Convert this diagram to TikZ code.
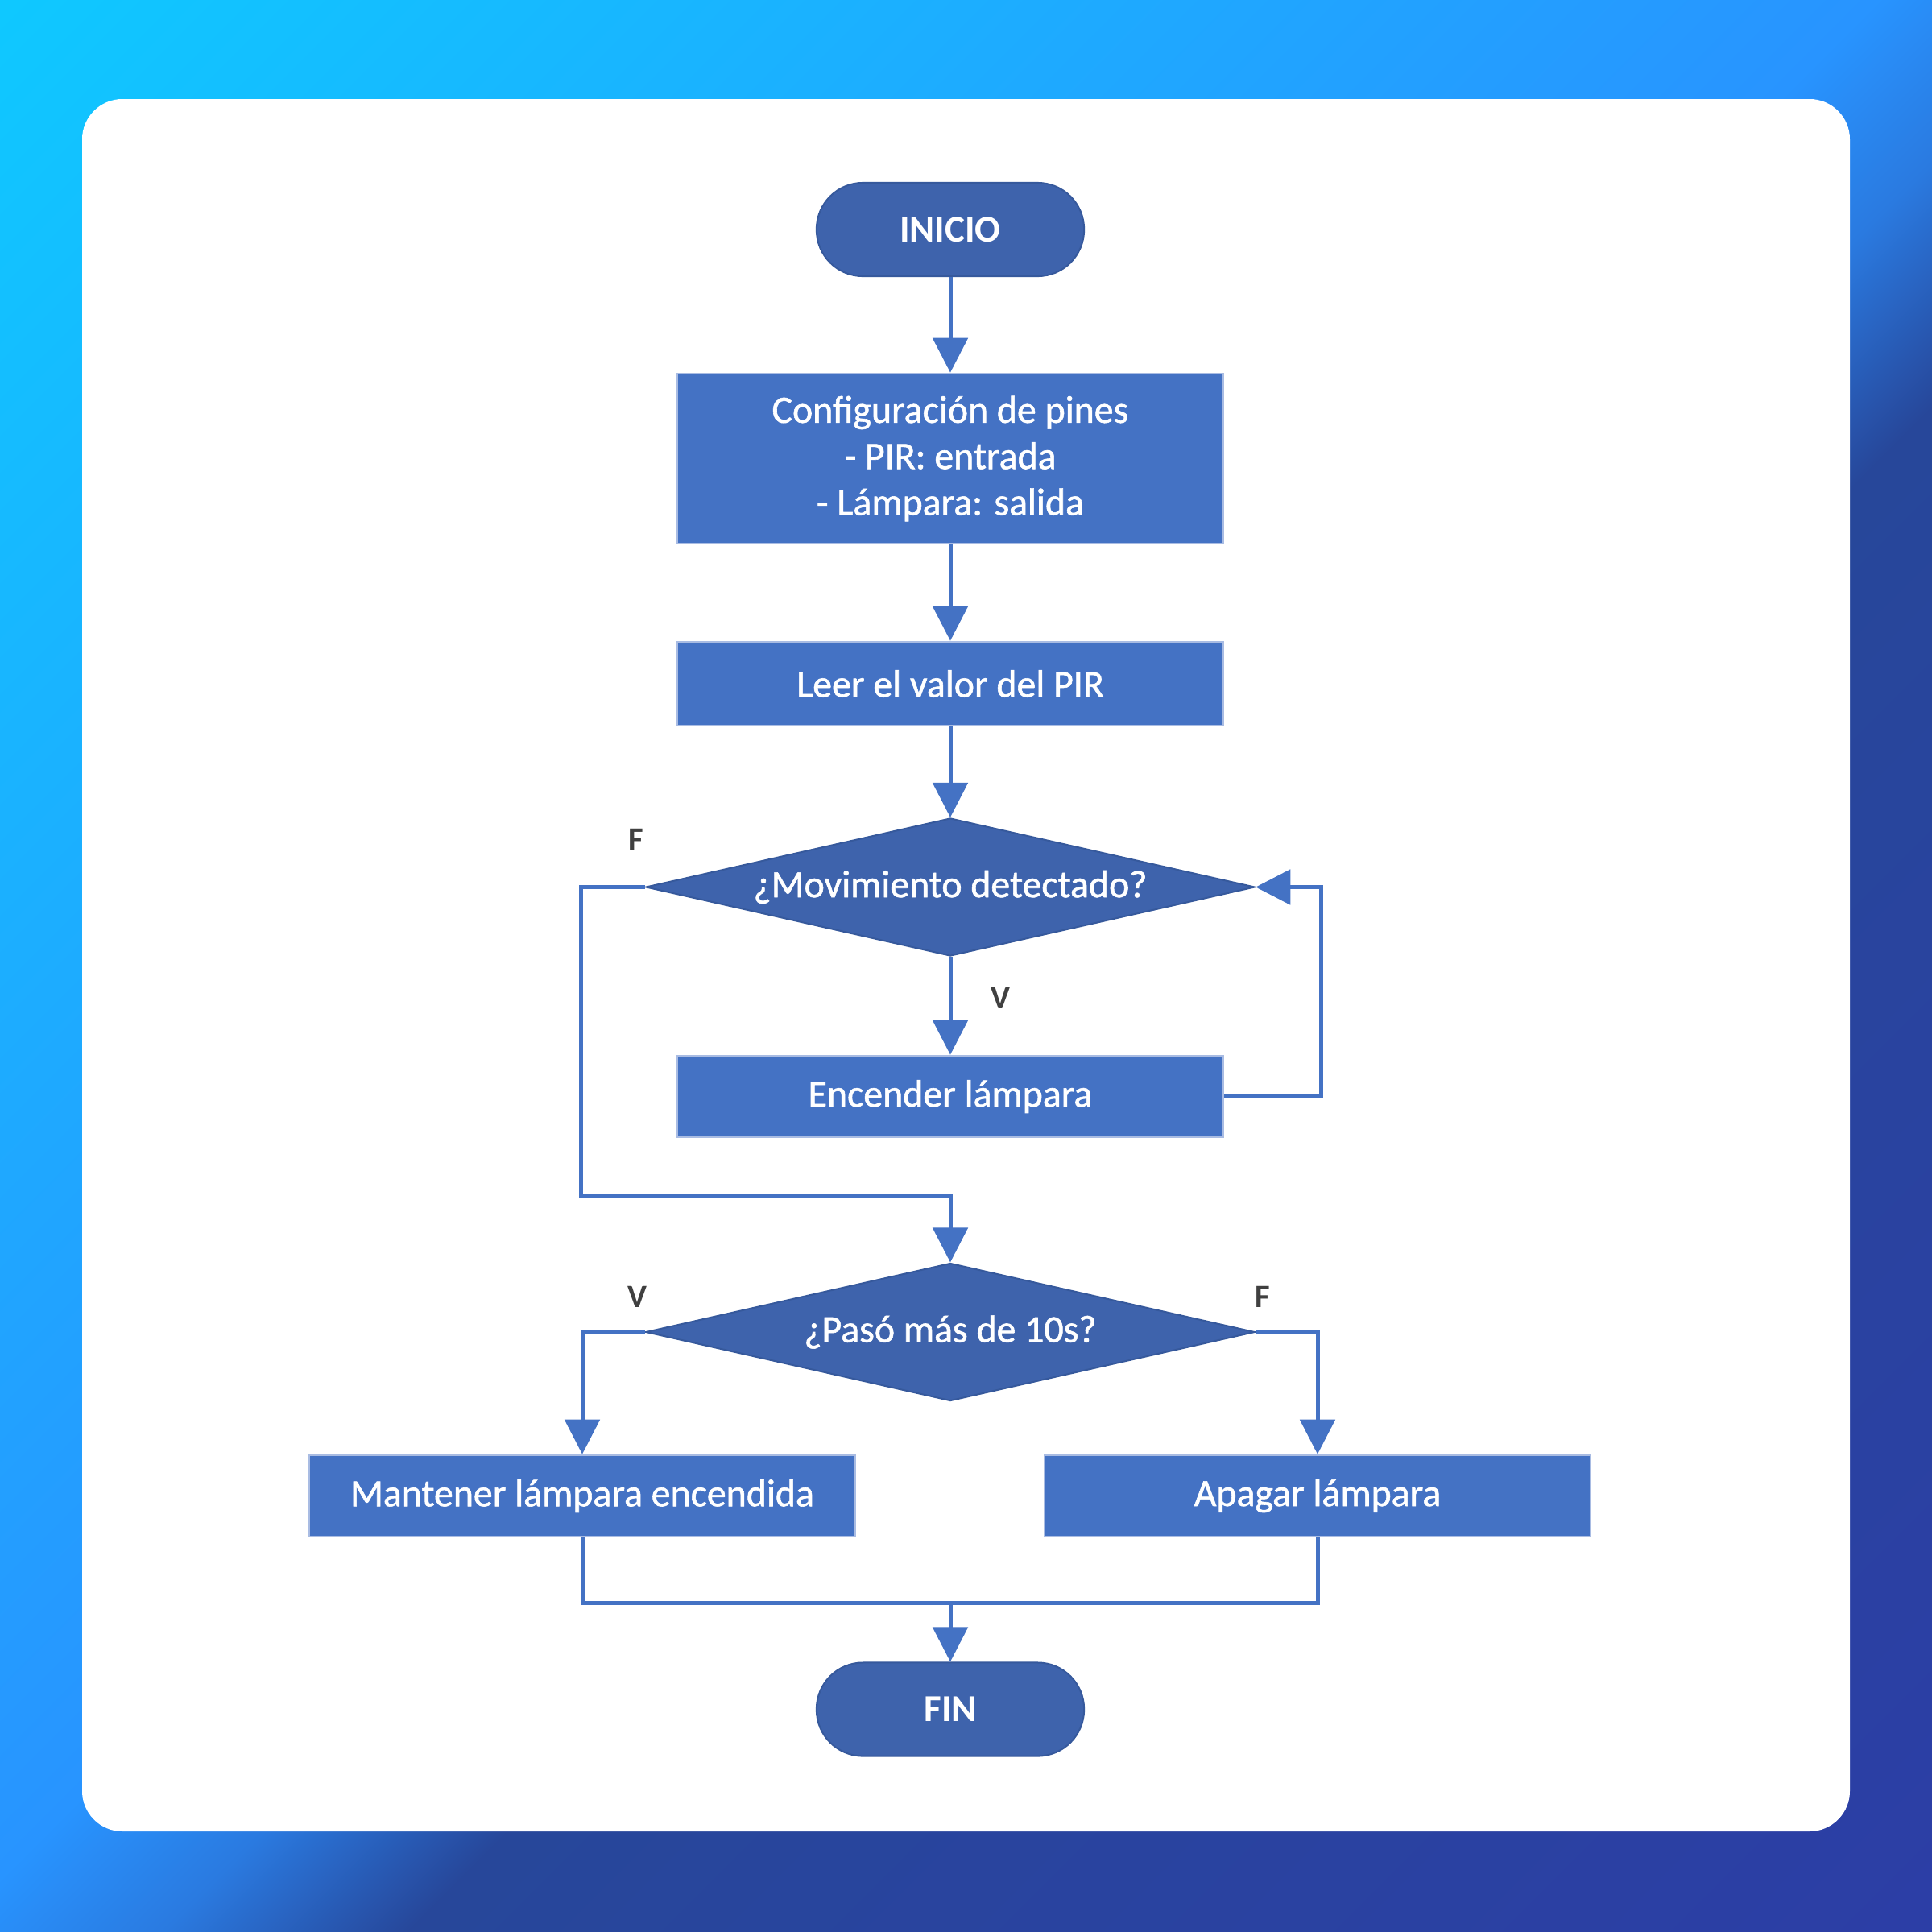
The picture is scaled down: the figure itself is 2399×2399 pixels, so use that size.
\documentclass[tikz,border=0pt]{standalone}
\usepackage{fontspec}
\setmainfont{Carlito}
\newfontfamily\semib{Carlito}[RawFeature={embolden=1.2}]
\usetikzlibrary{arrows.meta,shapes.geometric,calc}
\definecolor{boxblue}{HTML}{4472C4}
\definecolor{termblue}{HTML}{3E63AC}
\definecolor{termedge}{HTML}{36599C}
\definecolor{boxedge}{HTML}{A9BCE3}
\definecolor{lineblue}{HTML}{4472C4}
\definecolor{lblgray}{HTML}{404040}
\definecolor{bgA}{HTML}{0FC8FF}
\definecolor{bgB}{HTML}{1CAEFF}
\definecolor{bgC}{HTML}{2894FF}
\definecolor{bgD}{HTML}{2A7AE0}
\definecolor{bgE}{HTML}{27479A}
\definecolor{bgF}{HTML}{2C3EA6}
\pgfdeclarehorizontalshading{bgshade}{100bp}{color(0bp)=(bgA); color(14.64bp)=(bgA); color(32.3bp)=(bgB); color(49bp)=(bgC); color(53bp)=(bgD); color(57.5bp)=(bgE); color(85.36bp)=(bgF); color(100bp)=(bgF)}
\tikzset{
  proc/.style={rectangle, draw=boxedge, line width=0.025cm, fill=boxblue, text=white,
    minimum width=6.78cm, inner sep=0pt, align=center,
    font=\semib\fontsize{13.6}{16.3}\selectfont},
  term/.style={rectangle, rounded corners=0.575cm, draw=termedge, line width=0.02cm, fill=termblue,
    text=white, minimum width=3.32cm, minimum height=1.16cm, inner sep=0pt,
    font=\bfseries\fontsize{13.4}{16}\selectfont},
  dec/.style={diamond, aspect=4.42, draw=termedge, line width=0.02cm, fill=termblue, text=white,
    minimum width=7.56cm, minimum height=1.71cm, inner sep=0pt,
    font=\semib\fontsize{13.6}{16.3}\selectfont},
  ln/.style={draw=lineblue, line width=0.05cm},
  arr/.style={ln, -{Triangle[width=0.43cm,length=0.43cm]}},
  lbl/.style={text=lblgray, inner sep=0pt, font=\bfseries\fontsize{11.5}{13}\selectfont}
}
\begin{document}
\begin{tikzpicture}[x=0.01cm,y=-0.01cm]
\useasboundingbox (0,0) rectangle (2399,2399);
\path[shading=bgshade, shading angle=-45] (0,0) rectangle (2399,2399);
\path[fill=white, rounded corners=0.5cm] (102,123) rectangle (2297,2274);

\node[term] (inicio) at (1180,285) {INICIO};
\node[proc, minimum height=2.11cm] (config) at (1180,569.5) {Configuración de pines\\- PIR: entrada\\- Lámpara: salida};
\node[proc, minimum height=1.04cm] (leer) at (1180,849) {Leer el valor del PIR};
\node[dec] (d1) at (1180,1101.5) {¿Movimiento detectado?};
\node[proc, minimum height=1.01cm] (enc) at (1180,1361.5) {Encender lámpara};
\node[dec] (d2) at (1180,1654) {¿Pasó más de 10s?};
\node[proc, minimum height=1.01cm] (mant) at (723,1857.5) {Mantener lámpara encendida};
\node[proc, minimum height=1.01cm] (apag) at (1636,1857.5) {Apagar lámpara};
\node[term] (fin) at (1180,2122.5) {FIN};

\node[lbl] (lf1) at (790,1042) {F};
\node[lbl] (lv1) at (1242,1239) {V};
\node[lbl] (lv2) at (791,1610) {V};
\node[lbl] (lf2) at (1568,1610) {F};

\coordinate (loopR) at (1640,1101.5);
\coordinate (fl) at (721,1101.5);
\coordinate (fb) at (721,1485);
\coordinate (fm) at (1180,1485);
\coordinate (join) at (1180,1990);

\draw[arr] (inicio.south) -- (config.north);
\draw[arr] (config.south) -- (leer.north);
\draw[arr] (leer.south) -- (d1.north);
\draw[arr] (d1.south) -- (enc.north);
\draw[arr] (enc.east) -| (loopR) -- (d1.east);
\draw[arr] (d1.west) -- (fl) -- (fb) -- (fm) -- (d2.north);
\draw[arr] (d2.west) -| (mant.north);
\draw[arr] (d2.east) -| (apag.north);
\draw[ln] (mant.south) |- (join);
\draw[ln] (apag.south) |- (join);
\draw[arr] (join) -- (fin.north);
\end{tikzpicture}
\end{document}
